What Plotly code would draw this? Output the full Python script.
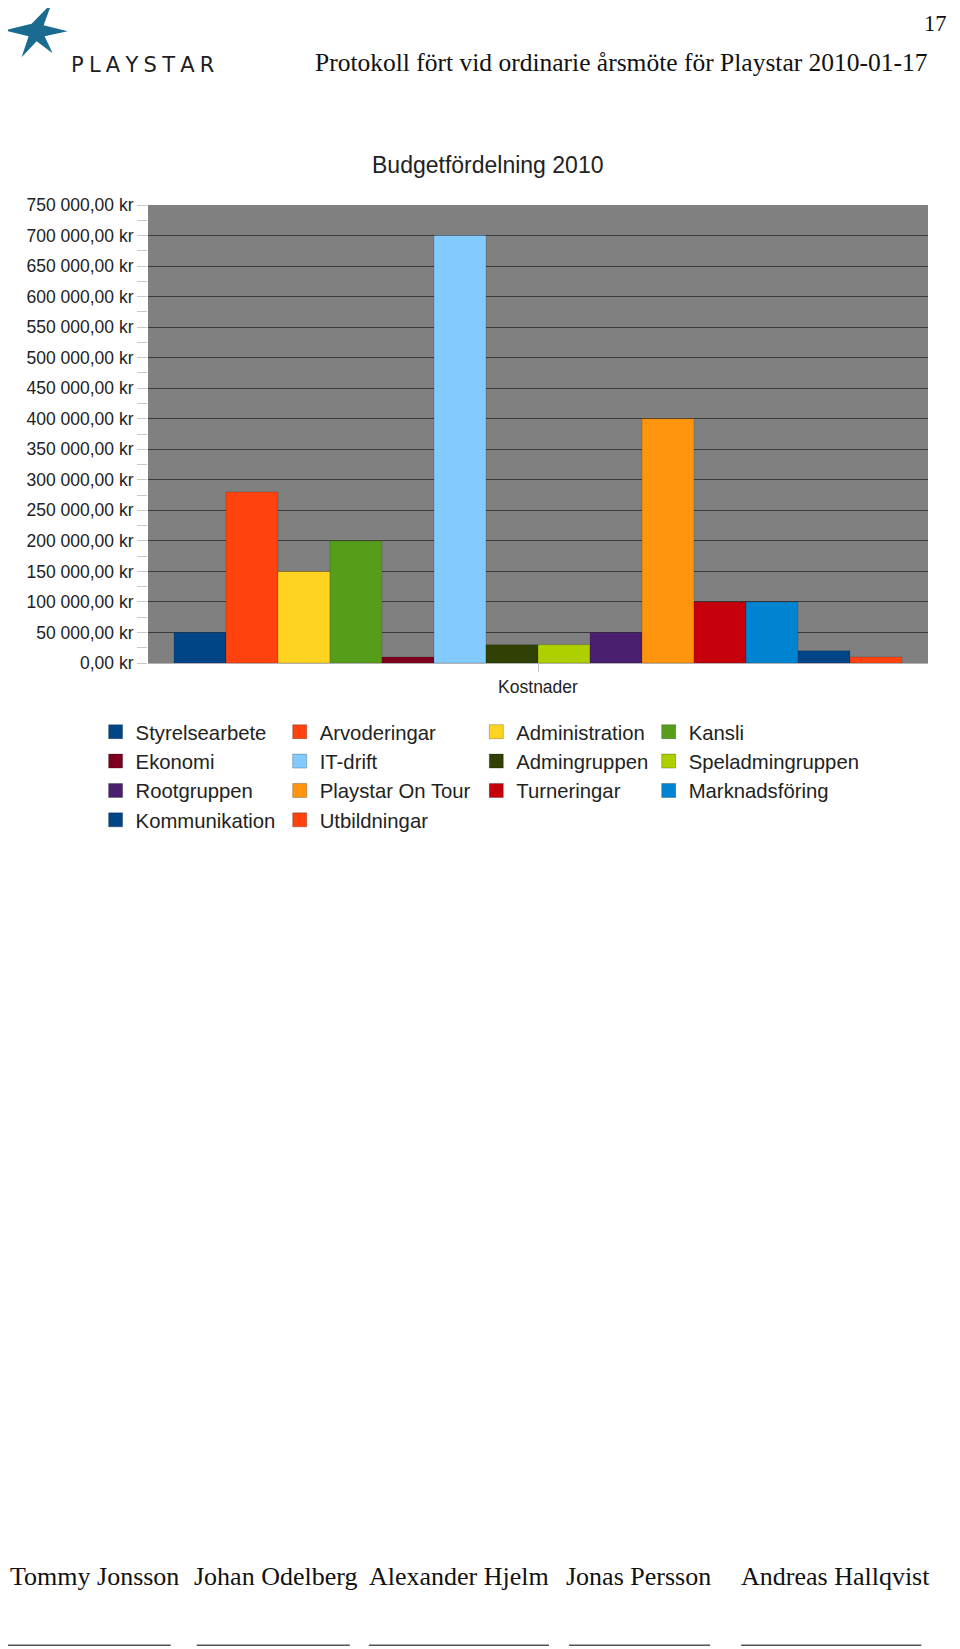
import plotly.graph_objects as go

# ---------------- data ----------------
categories = ["Kostnader"]
series_names = ["Styrelsearbete", "Arvoderingar", "Administration", "Kansli",
                "Ekonomi", "IT-drift", "Admingruppen", "Speladmingruppen",
                "Rootgruppen", "Playstar On Tour", "Turneringar", "Marknadsföring",
                "Kommunikation", "Utbildningar"]
series_values = [50000, 280000, 150000, 200000,
                 10000, 700000, 30000, 30000,
                 50000, 400000, 100000, 100000,
                 20000, 10000]
series_colors = ["#004586", "#ff420e", "#ffd320", "#579d1c",
                 "#7e0021", "#83caff", "#314004", "#aecf00",
                 "#4b1f6f", "#ff950e", "#c5000b", "#0084d1",
                 "#004586", "#ff420e"]
y_tick_values = [0, 50000, 100000, 150000, 200000, 250000, 300000, 350000,
                 400000, 450000, 500000, 550000, 600000, 650000, 700000, 750000]
y_tick_labels = ["0,00 kr", "50 000,00 kr", "100 000,00 kr", "150 000,00 kr",
                 "200 000,00 kr", "250 000,00 kr", "300 000,00 kr", "350 000,00 kr",
                 "400 000,00 kr", "450 000,00 kr", "500 000,00 kr", "550 000,00 kr",
                 "600 000,00 kr", "650 000,00 kr", "700 000,00 kr", "750 000,00 kr"]
chart_title = "Budgetfördelning 2010"
header_text = "Protokoll fört vid ordinarie årsmöte för Playstar 2010-01-17"
page_number = "17"
logo_text = "PLAYSTAR"
signers = ["Tommy Jonsson", "Johan Odelberg", "Alexander Hjelm", "Jonas Persson", "Andreas Hallqvist"]

# ---------------- layout geometry ----------------
# page coordinates (screen px); the html body adds an 8px margin
OFF = 8
W, H = 960 - OFF, 1649 - OFF
L, R, T, B = 148.3 - OFF, 927.7 - OFF, 204.7 - OFF, 662.7 - OFF


def px(x):
    return (x - OFF - L) / (R - L)


def py(y):
    return (B - (y - OFF)) / (B - T)


SANS = "Liberation Sans, Arial, sans-serif"
SERIF = "Liberation Serif, Times New Roman, serif"

fig = go.Figure()
for i, (name, val, col) in enumerate(zip(series_names, series_values, series_colors)):
    fig.add_trace(go.Bar(
        x=categories, y=[val], name=name,
        marker=dict(color=col, line=dict(color="rgba(0,0,0,0.25)", width=0.6)),
        showlegend=False,
    ))

# legend entries (4 columns, one legend per column)
for i, (name, col) in enumerate(zip(series_names, series_colors)):
    leg = "legend" if i % 4 == 0 else "legend%d" % (i % 4 + 1)
    fig.add_trace(go.Scatter(
        x=[None], y=[None], name=name, mode="markers",
        marker=dict(symbol="square", size=14, color=col,
                    line=dict(color="rgba(0,0,0,0.3)", width=0.8)),
        legend=leg, showlegend=True, hoverinfo="skip",
    ))

legend_cols_x = [95.6, 279.7, 476.3, 648.7]  # page px
legend_top = 712
legends = {}
for k, lx in enumerate(legend_cols_x):
    key = "legend" if k == 0 else "legend%d" % (k + 1)
    legends[key] = dict(
        x=(lx - OFF) / W, y=1 - (legend_top - OFF) / H, xref="container", yref="container",
        xanchor="left", yanchor="top", orientation="v", itemsizing="trace",
        font=dict(family=SANS, size=20.3, color="#222222"),
        bgcolor="rgba(0,0,0,0)", borderwidth=0,
    )

annotations = [
    dict(text=chart_title, x=px(488), y=py(165), xref="paper", yref="paper",
         showarrow=False, font=dict(family=SANS, size=23, color="#222222"),
         xanchor="center", yanchor="middle"),
    dict(text=header_text, x=px(313), y=py(62), xref="paper", yref="paper",
         showarrow=False, font=dict(family=SERIF, size=25.5, color="#111111"),
         xanchor="left", yanchor="middle"),
    dict(text=page_number, x=px(949), y=py(OFF + 0.5), xref="paper", yref="paper",
         showarrow=False, font=dict(family=SERIF, size=22.5, color="#111111"),
         xanchor="right", yanchor="top"),
    dict(text="\u2005".join(logo_text), x=px(69), y=py(65),
         xref="paper", yref="paper", showarrow=False,
         font=dict(family="DejaVu Sans, sans-serif", size=21, color="#1e1e1e"),
         xanchor="left", yanchor="middle"),
]

name_x = [8, 192, 367, 564, 739]
for nm, nx in zip(signers, name_x):
    annotations.append(dict(text=nm, x=px(nx), y=py(1576), xref="paper", yref="paper",
                            showarrow=False, font=dict(family=SERIF, size=26, color="#111111"),
                            xanchor="left", yanchor="middle"))

shapes = []
line_spans = [(8, 171), (197, 350), (369, 549), (569, 710), (741, 921)]
for a, b in line_spans:
    shapes.append(dict(type="line", xref="paper", yref="paper",
                       x0=px(a), x1=px(b), y0=py(1645), y1=py(1645),
                       line=dict(color="#555555", width=1.5)))

# star logo
star_pts = [(52, 3), (44, 25), (68, 31), (45, 36), (53, 53), (37, 41),
            (22, 57), (29, 36), (5, 30), (32, 23.5)]
path = "M " + " L ".join("%f,%f" % (px(x), py(y)) for x, y in star_pts) + " Z"
shapes.append(dict(type="path", xref="paper", yref="paper", path=path,
                   fillcolor="#1a6b8f", line=dict(width=0)))

fig.update_layout(
    width=W, height=H,
    margin=dict(l=L, r=W - R, t=T, b=H - B, autoexpand=False),
    paper_bgcolor="white", plot_bgcolor="#808080",
    barmode="group", bargap=0.0667, bargroupgap=0,
    showlegend=True,
    annotations=annotations, shapes=shapes,
    **legends,
)

fig.update_yaxes(
    range=[0, 750000], tickvals=y_tick_values, ticktext=y_tick_labels,
    showgrid=True, gridcolor="#3a3a3a", gridwidth=1,
    ticks="outside", ticklen=10, tickcolor="#c8c8c8",
    minor=dict(dtick=25000, ticks="outside", ticklen=10, tickcolor="#c8c8c8", showgrid=False),
    tickfont=dict(family=SANS, size=17.5, color="#222222"),
    showline=False, zeroline=False, fixedrange=True,
)
fig.update_xaxes(
    ticks="outside", ticklen=8, tickcolor="#c8c8c8",
    tickfont=dict(family=SANS, size=17.5, color="#222222"),
    showline=True, linecolor="#b3b3b3", linewidth=1, mirror=False,
    showgrid=False, fixedrange=True,
)

fig.write_html("out.html")
